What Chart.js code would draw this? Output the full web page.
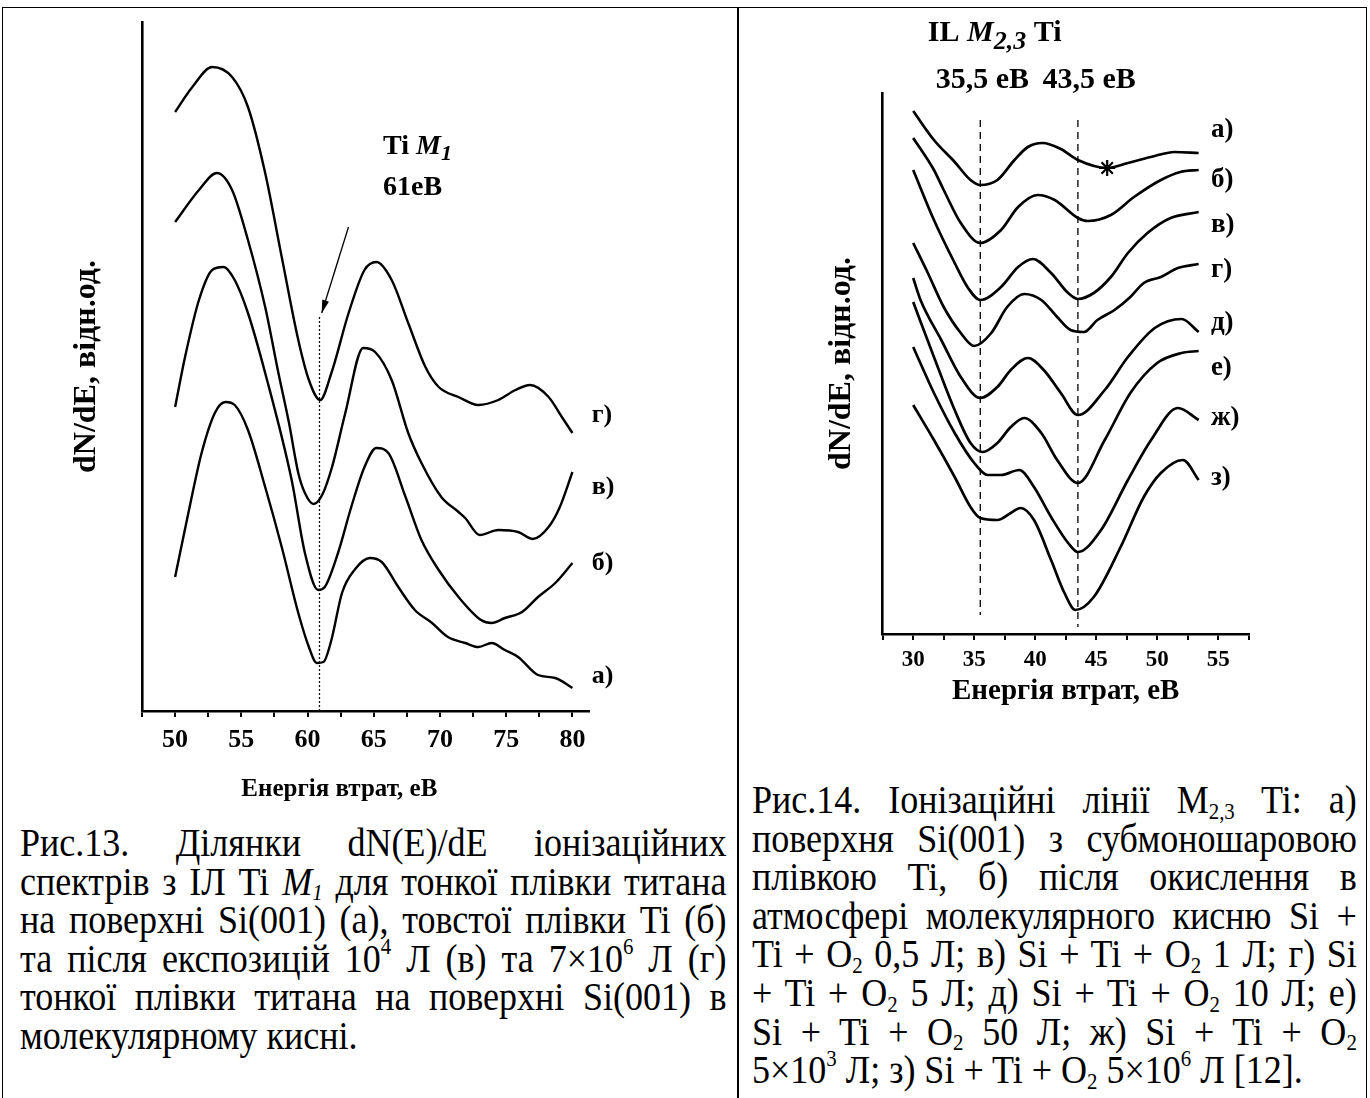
<!DOCTYPE html>
<html>
<head>
<meta charset="utf-8">
<script src="https://cdn.jsdelivr.net/npm/chart.js@4.4.1/dist/chart.umd.min.js"></script>
<style>
  body { margin: 0; background: #fff; width: 1370px; height: 1098px; overflow: hidden; position: relative;
         font-family: 'Liberation Serif', 'Times New Roman', serif; color: #000; }
  .frame { position: absolute; left: 2px; top: 7px; width: 1363px; height: 1100px; border: 1.5px solid #000; border-bottom: none; }
  .divider { position: absolute; left: 737px; top: 7px; width: 1.5px; height: 1091px; background: #000; }
  #left { position: absolute; left: 0; top: 0; }
  #right { position: absolute; left: 739px; top: 0; }
  .cap { position: absolute; font-size: 40px; line-height: 38.6px; transform: scaleX(0.9); transform-origin: 0 0; }
  .cap div { text-align: justify; text-align-last: justify; }
  .cap div.last { text-align-last: left; }
  .cap sub, .cap sup { font-size: 0.58em; line-height: 0; position: relative; vertical-align: baseline; }
  .cap sup { top: -0.75em; }
  .cap sub { top: 0.25em; }
</style>
</head>
<body>
<div class="frame"></div>
<div class="divider"></div>
<canvas id="left" width="738" height="810"></canvas>
<canvas id="right" width="629" height="720"></canvas>

<div class="cap" style="left:20px; top:824px; width:785px;">
  <div>Рис.13. Ділянки dN(E)/dE іонізаційних</div>
  <div>спектрів з ІЛ Ti <i>M</i><sub><i>1</i></sub> для тонкої плівки титана</div>
  <div>на поверхні Si(001) (а), товстої плівки Ti (б)</div>
  <div>та після експозицій 10<sup>4</sup> Л (в) та 7×10<sup>6</sup> Л (г)</div>
  <div>тонкої плівки титана на поверхні Si(001) в</div>
  <div class="last">молекулярному кисні.</div>
</div>

<div class="cap" style="left:752px; top:781px; width:672px;">
  <div>Рис.14. Іонізаційні лінії M<sub>2,3</sub> Ti: а)</div>
  <div>поверхня Si(001) з субмоношаровою</div>
  <div>плівкою Ti, б) після окислення в</div>
  <div>атмосфері молекулярного кисню Si +</div>
  <div>Ti + O<sub>2</sub> 0,5 Л; в) Si + Ti + O<sub>2</sub> 1 Л; г) Si</div>
  <div>+ Ti + O<sub>2</sub> 5 Л; д) Si + Ti + O<sub>2</sub> 10 Л; е)</div>
  <div>Si + Ti + O<sub>2</sub> 50 Л; ж) Si + Ti + O<sub>2</sub></div>
  <div class="last">5×10<sup>3</sup> Л; з) Si + Ti + O<sub>2</sub> 5×10<sup>6</sup> Л [12].</div>
</div>

<script>
// Fig.13 (Ti M1) curves: [energy eV, dN/dE arb. units]
const m1CurveA = [[50,13.4],[51,19.8],[52,25.8],[53,29.8],[53.8,30.9],[54.5,30.6],[55.5,28.1],[56.8,22.4],[58.05,16.4],
  [59.3,9.8],[60.1,6.4],[60.7,4.8],[61.2,4.9],[61.8,7.1],[62.6,11.8],[63.6,14.2],[64.7,15.3],[65.6,14.9],[66.85,12.4],
  [68.1,10.1],[69.4,8.8],[70.6,7.4],[71.9,6.8],[72.9,6.4],[73.9,6.8],[74.9,6.1],[75.9,5.4],[77.4,3.6],[78.7,3.3],[80,2.3]];
const m1CurveB = [[50,30.4],[50.75,35.4],[51.8,41.1],[52.8,44.1],[53.65,44.4],[54.5,43.1],[55.5,39.8],[56.8,33.8],[58.8,23.1],
  [59.8,15.8],[60.8,12.1],[61.3,12.4],[62.3,15.8],[63.3,20.4],[64.3,24.4],[65.2,26.3],[66.1,25.8],[67.4,21.4],[68.6,17.1],
  [69.9,14.1],[71.4,11.4],[73.1,9.1],[73.9,8.8],[74.9,9.3],[76.2,9.9],[77.4,11.4],[78.7,12.8],[80,14.8]];
const m1CurveV = [[50,48.9],[51.8,52.1],[53.15,53.8],[54.3,52.1],[55.5,47.1],[56.8,40.4],[57.8,33.8],[58.6,28.8],[59.3,23.8],
  [59.8,21.8],[60.45,20.7],[61.1,21.6],[61.85,24.4],[62.85,29.8],[64.2,36.3],[65.1,35.9],[66.35,33.1],[67.6,27.8],[68.6,24.8],
  [70.1,21.4],[71.4,19.9],[71.9,19.3],[73,17.6],[74.4,18.1],[75.9,17.9],[77,17.2],[78.2,18.4],[79.05,20.4],[80,23.9]];
const m1CurveG = [[50,59.9],[51.3,62.4],[52.8,64.4],[54.3,63.4],[55.5,60.4],[56.8,53.8],[58.05,45.4],[59.3,37.1],[60.1,33.1],
  [60.95,31.1],[61.8,33.8],[63.1,39.8],[64.3,44.1],[65.2,44.9],[66.35,43.1],[67.6,38.8],[68.9,34.4],[69.9,32.4],[71.4,31.4],
  [72.9,30.6],[74.4,31.1],[75.7,32.1],[76.8,32.6],[78.2,31.4],[79.2,29.4],[80,27.8]];
const m1Curves = [m1CurveA, m1CurveB, m1CurveV, m1CurveG];
const m1Labels = ['а)', 'б)', 'в)', 'г)'];
const m1LabelY = [3.5, 14.8, 22.4, 29.6];
const m1Line = 60.9;          // Ti M1 position, eV
const m1LineTop = 39.4;
const m1Arrow = [[63.09, 48.4], [61.07, 39.8]];

// Fig.14 (Ti M2,3) curves
const m23CurveA = [[30,52.3],[31.7,49.4],[33.4,47.2],[34.7,45.4],[35.5,44.9],[36.9,45.4],[38.3,47.4],[39.4,48.7],[40.6,49.1],
  [42.1,48.5],[43.5,47.4],[45.9,46.6],[47.6,47.1],[49.8,47.8],[51.4,48.2],[53.4,48.1]];
const m23CurveB = [[30,49.6],[31.7,46.4],[32.5,44.4],[33.9,41.1],[35.5,39.1],[37.2,40.4],[38.6,42.7],[40.2,43.9],[41.6,43.4],
  [43.5,41.6],[44.3,41.3],[46.2,41.9],[48.1,43.7],[50.3,45.4],[51.9,46.2],[53.4,46.4]];
const m23CurveV = [[30,46.4],[31.7,41.4],[33.4,37.1],[34.5,34.6],[35.5,33.4],[37.2,34.7],[38.6,36.7],[39.8,37.5],[41.3,36.1],
  [42.7,34.1],[43.5,33.5],[44.8,34.1],[46.2,35.7],[47.6,38.1],[49.2,40.1],[51.1,41.6],[53.4,42.2]];
const m23CurveG = [[30,39.1],[31.2,36.1],[32.5,32.7],[33.9,30.1],[35,28.8],[36.4,30.1],[37.7,32.7],[39.1,34],[40.5,33.4],
  [41.8,31.7],[42.9,30.4],[44,30.2],[45.1,31.4],[46.5,32.4],[47.8,33.7],[48.9,35.1],[50.3,35.7],[51.7,36.6],[53.4,37]];
const m23CurveD = [[30,35.6],[30.6,33.4],[32.3,29.4],[33.9,25.7],[35.5,23.6],[36.9,24.7],[38,26.4],[39.4,27.6],[40.7,26.4],
  [42.1,24.1],[43.5,21.9],[45.7,24.4],[47.6,27.7],[49.8,30.6],[52,31.5],[53.4,30.2]];
const m23CurveE = [[30,33.2],[31.7,27.7],[33.4,22.4],[34.7,19.1],[35.7,18.2],[36.9,19.1],[38,20.7],[39.1,21.6],[40.5,20.1],
  [41.8,17.4],[43.5,15.1],[45.7,19.4],[47.8,24.1],[50,27.1],[52,28.1],[53.4,28.3]];
const m23CurveZh = [[30,28.7],[31.7,24.1],[33.4,20.1],[35,17.1],[36.1,15.9],[37.2,15.9],[38.7,16.4],[39.9,14.7],[41.3,11.7],
  [42.7,9.1],[43.5,8.2],[45.4,10.4],[47.6,15.4],[49.5,19.4],[51.7,22.6],[53.4,21.4]];
const m23CurveZ = [[30,22.9],[31.7,19.4],[33.4,15.7],[34.7,12.7],[35.5,11.6],[36.9,11.4],[38,12.1],[38.8,12.6],[39.9,11.4],
  [41.3,7.4],[42.4,4.1],[43.3,2.4],[44.8,3.7],[47,8.7],[48.9,13.7],[50.3,16.1],[52.1,17.4],[53.4,15.4]];
const m23Curves = [m23CurveA, m23CurveB, m23CurveV, m23CurveG, m23CurveD, m23CurveE, m23CurveZh, m23CurveZ];
const m23Labels = ['а)', 'б)', 'в)', 'г)', 'д)', 'е)', 'ж)', 'з)'];
const m23LabelY = [50.4, 45.4, 40.9, 36.4, 31.1, 26.6, 21.6, 15.6];
const m23Lines = [35.5, 43.5];
const m23LineTop = 51.4;
const m23LineBottom = [1.9, 0.7];
const m23Star = [45.9, 46.6];

const SERIF = "'Liberation Serif', 'Times New Roman', serif";
const toPoints = arr => arr.map(p => ({ x: p[0], y: p[1] }));

function curveSet(arr, width) {
  return { data: toPoints(arr), showLine: true, borderColor: '#000', borderWidth: width,
           pointRadius: 0, cubicInterpolationMode: 'monotone', fill: false };
}

function vline(x, y0, y1, dash, width) {
  return { data: [{ x: x, y: y0 }, { x: x, y: y1 }], showLine: true, borderColor: '#111', borderWidth: width,
           borderDash: dash, pointRadius: 0, tension: 0 };
}

function drawRuns(ctx, x, y, runs, align) {
  ctx.textBaseline = 'middle';
  ctx.textAlign = 'left';
  if (align === 'center') {
    let w = 0;
    runs.forEach(r => { ctx.font = r.f; w += ctx.measureText(r.t).width; });
    x -= w / 2;
  }
  runs.forEach(r => {
    ctx.font = r.f;
    ctx.fillText(r.t, x, y + (r.dy || 0));
    x += ctx.measureText(r.t).width;
  });
}

function xScale(min, max, tickSize, tickPad, title, titleSize, titlePadBottom, height) {
  return {
    type: 'linear', min: min, max: max,
    afterBuildTicks: s => {
      const t = [];
      for (let v = Math.ceil(min / 2.5) * 2.5; v <= max + 1e-9; v += 2.5) t.push({ value: v });
      s.ticks = t;
    },
    afterFit: s => { s.height = height; },
    grid: { display: true, drawOnChartArea: false, drawTicks: true, tickLength: 6, color: '#000', lineWidth: 2 },
    border: { display: true, color: '#000', width: 2.6 },
    ticks: { autoSkip: false, maxRotation: 0, padding: tickPad, color: '#000',
             font: { family: SERIF, size: tickSize, weight: 'bold' },
             callback: v => (v % 5 === 0 ? v : '') },
    title: { display: title, text: 'Енергія втрат, еВ', color: '#000',
             font: { family: SERIF, size: titleSize, weight: 'bold' },
             padding: { top: 0, bottom: titlePadBottom } }
  };
}

function yScale(max, width, titleSize, titlePadTop) {
  return {
    type: 'linear', min: 0, max: max,
    afterFit: s => { s.width = width; },
    grid: { display: false },
    border: { display: true, color: '#000', width: 2.6 },
    ticks: { display: false },
    title: { display: true, text: 'dN/dE, відн.од.', color: '#000',
             font: { family: SERIF, size: titleSize, weight: 'bold' },
             padding: { top: titlePadTop, bottom: 0 } }
  };
}

// ---------- Fig.13 ----------
const leftText = {
  id: 'leftText',
  afterDraw(chart) {
    const { ctx, scales: { x, y } } = chart;
    ctx.save();
    ctx.fillStyle = '#000';
    m1Labels.forEach((t, i) => {
      ctx.font = `bold 26px ${SERIF}`;
      ctx.textBaseline = 'middle';
      ctx.fillText(t, x.getPixelForValue(81.45), y.getPixelForValue(m1LabelY[i]));
    });
    drawRuns(ctx, x.getPixelForValue(65.7), y.getPixelForValue(56.4), [
      { t: 'Ti ', f: `bold 28px ${SERIF}` },
      { t: 'M', f: `italic bold 28px ${SERIF}` },
      { t: '1', f: `italic bold 22px ${SERIF}`, dy: 7 }
    ]);
    drawRuns(ctx, x.getPixelForValue(65.7), y.getPixelForValue(52.3), [{ t: '61eB', f: `bold 28px ${SERIF}` }]);
    // axis title, placed as in the source figure
    drawRuns(ctx, x.getPixelForValue(62.4), 790, [{ t: 'Енергія втрат, еВ', f: `bold 25px ${SERIF}` }], 'center');
    // arrow head
    const x0 = x.getPixelForValue(m1Arrow[0][0]), y0 = y.getPixelForValue(m1Arrow[0][1]);
    const x1 = x.getPixelForValue(m1Arrow[1][0]), y1 = y.getPixelForValue(m1Arrow[1][1]);
    const a = Math.atan2(y1 - y0, x1 - x0);
    ctx.beginPath();
    ctx.moveTo(x1, y1);
    ctx.lineTo(x1 - 13 * Math.cos(a) + 3.5 * Math.sin(a), y1 - 13 * Math.sin(a) - 3.5 * Math.cos(a));
    ctx.lineTo(x1 - 13 * Math.cos(a) - 3.5 * Math.sin(a), y1 - 13 * Math.sin(a) + 3.5 * Math.cos(a));
    ctx.closePath();
    ctx.fill();
    ctx.restore();
  }
};

const leftSets = m1Curves.map(c => curveSet(c, 2.4));
leftSets.push(vline(m1Line, m1LineTop, 0, [2, 2], 1.3));
leftSets.push({ data: toPoints(m1Arrow), showLine: true, borderColor: '#000', borderWidth: 1.3, pointRadius: 0, tension: 0, clip: false });

new Chart(document.getElementById('left'), {
  type: 'scatter',
  data: { datasets: leftSets },
  options: {
    responsive: false, animation: false, devicePixelRatio: 1,
    layout: { padding: { left: 0, top: 22, right: 149, bottom: 0 } },
    plugins: { legend: { display: false }, tooltip: { enabled: false } },
    scales: {
      x: xScale(47.5, 81.25, 26, 8, false, 25, 8, 99),
      y: yScale(68.9, 142, 32, 68)
    }
  },
  plugins: [leftText]
});

// ---------- Fig.14 ----------
const rightText = {
  id: 'rightText',
  afterDraw(chart) {
    const { ctx, scales: { x, y } } = chart;
    ctx.save();
    ctx.fillStyle = '#000';
    m23Labels.forEach((t, i) => {
      ctx.font = `bold 27px ${SERIF}`;
      ctx.textBaseline = 'middle';
      ctx.fillText(t, x.getPixelForValue(54.4), y.getPixelForValue(m23LabelY[i]));
    });
    drawRuns(ctx, x.getPixelForValue(31.2), y.getPixelForValue(60.1), [
      { t: 'IL ', f: `bold 30px ${SERIF}` },
      { t: 'M', f: `italic bold 30px ${SERIF}` },
      { t: '2,3', f: `italic bold 26px ${SERIF}`, dy: 9 },
      { t: ' Ti', f: `bold 30px ${SERIF}` }
    ]);
    drawRuns(ctx, x.getPixelForValue(31.85), y.getPixelForValue(55.4), [{ t: '35,5 eB', f: `bold 30px ${SERIF}` }]);
    drawRuns(ctx, x.getPixelForValue(40.6), y.getPixelForValue(55.4), [{ t: '43,5 eB', f: `bold 30px ${SERIF}` }]);
    ctx.restore();
  }
};

const rightSets = m23Curves.map(c => curveSet(c, 2.7));
m23Lines.forEach((v, i) => rightSets.push(vline(v, m23LineTop, m23LineBottom[i], [7, 5], 1.4)));
rightSets.push({ data: [{ x: m23Star[0], y: m23Star[1] }], showLine: false, pointStyle: 'star',
                 pointRadius: 8, borderColor: '#000', borderWidth: 2.2, backgroundColor: '#000' });

new Chart(document.getElementById('right'), {
  type: 'scatter',
  data: { datasets: rightSets },
  options: {
    responsive: false, animation: false, devicePixelRatio: 1,
    layout: { padding: { left: 0, top: 93, right: 119.3, bottom: 0 } },
    plugins: { legend: { display: false }, tooltip: { enabled: false } },
    scales: {
      x: xScale(27.5, 57.5, 23, 6, true, 29, 11, 86),
      y: yScale(54.1, 143.7, 32, 84)
    }
  },
  plugins: [rightText]
});
</script>
</body>
</html>
